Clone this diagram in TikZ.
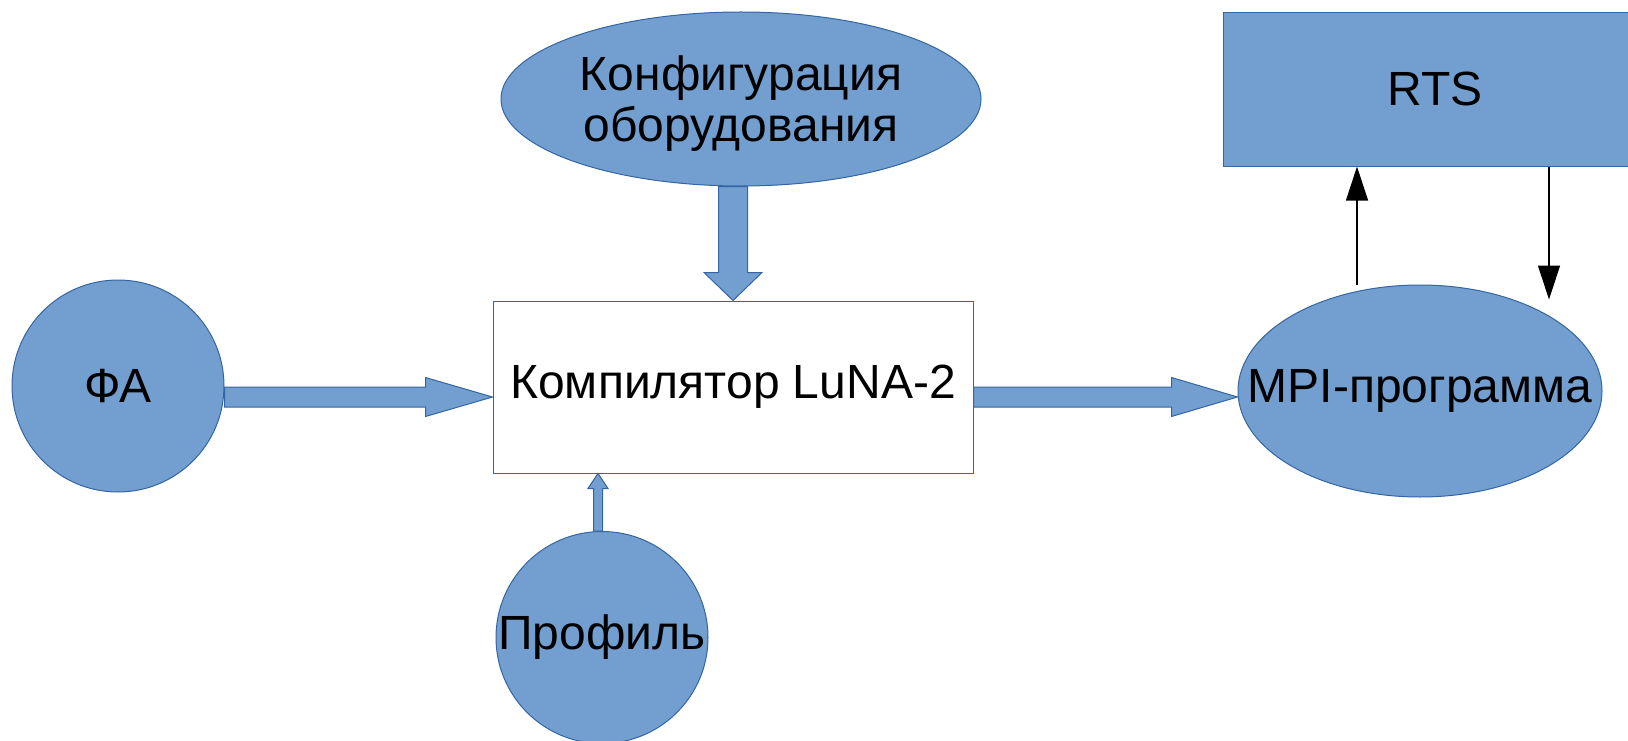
\documentclass[tikz,border=0pt]{standalone}
\usepackage{fontspec}
\setmainfont{Liberation Sans}
\usetikzlibrary{shapes.geometric,arrows.meta,calc}
\definecolor{lofill}{HTML}{729FCF}
\definecolor{loline}{HTML}{3465A4}
\tikzset{
  blob/.style={draw=loline, fill=lofill, line width=1pt, inner sep=0pt},
  thinarrow/.style={line width=1.3pt, -{Triangle[width=22pt,length=34pt]}},
  % block arrow: half shaft, half head, head length
  fat/.style n args={3}{draw=loline, fill=lofill, line width=1pt,
    to path={let \p1=(\tikztostart), \p2=(\tikztotarget),
      \n1={atan2(\y2-\y1,\x2-\x1)}, \n2={veclen(\x2-\x1,\y2-\y1)-#3} in
      ($(\p1)+(\n1+90:#1)$) -- ($(\p1)+(\n1:\n2)+(\n1+90:#1)$)
      -- ($(\p1)+(\n1:\n2)+(\n1+90:#2)$) -- (\p2)
      -- ($(\p1)+(\n1:\n2)+(\n1-90:#2)$) -- ($(\p1)+(\n1:\n2)+(\n1-90:#1)$)
      -- ($(\p1)+(\n1-90:#1)$) -- cycle}}
}
\begin{document}
\begin{tikzpicture}[x=1pt,y=-1pt,font=\fontsize{48}{51}\selectfont]
\useasboundingbox (0,0) rectangle (1628,741);
\node[blob,circle,minimum size=212pt,label=center:ФА] (fa) at (118,386) {};
\node[blob,ellipse,minimum width=480pt,minimum height=174pt,
  label={[align=center,yshift=-5pt]center:Конфигурация\\оборудования}] (config) at (741,99) {};
\node[draw=loline,fill=white,line width=1pt,minimum width=480pt,minimum height=172pt]
  (compiler) at (733,387) {Компилятор LuNA-2};
\node[blob,circle,minimum size=212pt,label=center:Профиль] (profile) at (602,637.5) {};
\node[blob,ellipse,minimum width=364pt,minimum height=212pt,
  label=center:MPI-программа] (mpi) at (1420,391) {};
\node[blob,rectangle,minimum width=424pt,minimum height=153.5pt] (rts) at (1435,89.3) {RTS};
% block arrows
\draw[fat={10pt}{19.5pt}{67pt}] ([yshift=-11pt]fa.east) to ([yshift=-10pt]compiler.west);
\draw[fat={10pt}{19.5pt}{66pt}] ([yshift=-10pt]compiler.east) to ([yshift=-6pt]mpi.west);
\draw[fat={14.5pt}{29pt}{28pt}] (compiler.north |- config.south) to (compiler.north);
\draw[fat={4.5pt}{10pt}{15pt}] ([xshift=-4pt]profile.north) to ([xshift=-4pt]profile.north |- compiler.south);
% to and from RTS
\draw[thinarrow] ([xshift=-63pt]mpi.north) -- ([xshift=-63pt]mpi.north |- rts.south);
\draw[thinarrow] ([xshift=129pt]mpi.north |- rts.south) -- ([xshift=129pt,yshift=-15pt]mpi.north);
\end{tikzpicture}
\end{document}
